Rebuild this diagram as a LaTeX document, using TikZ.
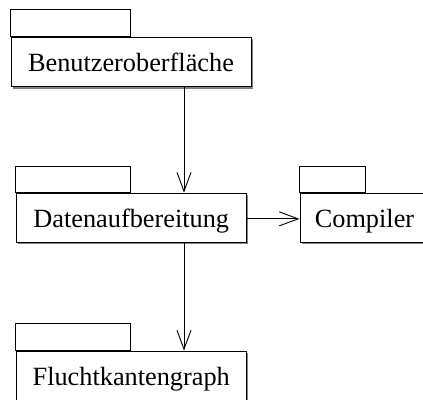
\documentclass[tikz,border=0pt]{standalone}
\usepackage{fontspec}
\setmainfont{Liberation Serif}
\usetikzlibrary{arrows.meta,shadows}
\begin{document}
\begin{tikzpicture}[x=1pt,y=-1pt,
  pkg/.style={draw, fill=white, line width=0.9pt, inner sep=0pt,
    minimum height=49.5pt, text height=19.5pt, text depth=0pt,
    font=\fontsize{26.3}{31}\selectfont,
    drop shadow={shadow xshift=1.8pt, shadow yshift=-1.8pt, fill=black!50, opacity=1}},
  tab/.style={draw, line width=0.9pt},
  dep/.style={draw, line width=0.9pt, -{Straight Barb[length=19pt,width=14pt,line width=0.9pt]}}]
\useasboundingbox (0,0) rectangle (423,399);
\clip (0,0) rectangle (423,399);
\node[pkg, minimum width=240pt] (b1) at (131,62) {Benutzeroberfläche};
\node[pkg, minimum width=230.5pt] (b2) at (131.25,217.85) {Datenaufbereitung};
\node[pkg, minimum width=129pt] (c) at (364.5,217.85) {Compiler};
\node[pkg, minimum width=230.5pt] (b3) at (131.25,375.75) {Fluchtkantengraph};
\draw[tab] (b1.north west) rectangle ([xshift=120pt,yshift=27pt]b1.north west);
\draw[tab] (b2.north west) rectangle ([xshift=115pt,yshift=26pt]b2.north west);
\draw[tab] (c.north west) rectangle ([xshift=66pt,yshift=26pt]c.north west);
\draw[tab] (b3.north west) rectangle ([xshift=115pt,yshift=27pt]b3.north west);
\draw[dep] ([xshift=53pt]b1.south) -- ([xshift=52.75pt]b2.north);
\draw[dep] ([xshift=52.75pt]b2.south) -- ([xshift=52.75pt]b3.north);
\draw[dep] ([yshift=-1pt]b2.east) -- ([yshift=-1pt]c.west);
\end{tikzpicture}
\end{document}
